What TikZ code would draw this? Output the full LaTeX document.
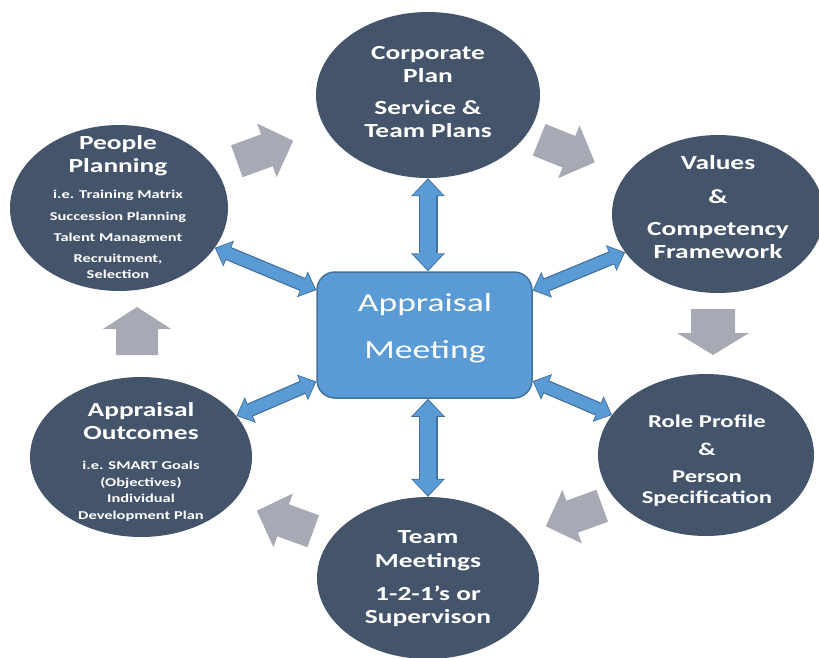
\documentclass[tikz,border=0pt]{standalone}
\usepackage{fontspec}
\setmainfont{Carlito}[FakeStretch=1.37]
\usetikzlibrary{arrows.meta,shapes.geometric}

\definecolor{slate}{RGB}{68,84,106}
\definecolor{meetfill}{RGB}{91,155,213}
\definecolor{meetline}{RGB}{65,113,156}
\definecolor{flowgray}{RGB}{167,169,180}

% text line: name, x, baseline y, font, text
\newcommand\say[5]{\node[anchor=base, text=white, inner sep=0pt, font=#4] (#1) at (#2,#3) {#5};}
\newcommand\fbig{\bfseries\fontsize{20}{24}\selectfont}
\newcommand\fmid{\bfseries\fontsize{18}{22}\selectfont}
\newcommand\fsmall{\bfseries\fontsize{12}{15}\selectfont}
\newcommand\fmeet{\fontsize{26}{30}\selectfont}

\tikzset{
  stage/.style={ellipse, fill=slate, inner sep=0pt},
  meetbox/.style={rectangle, rounded corners=18pt, fill=meetfill, draw=meetline,
    line width=1.5pt, minimum width=215pt, minimum height=126pt, inner sep=0pt},
  % two-headed link, drawn as an outline then a lighter core
  linkout/.style n args={3}{draw=meetline, line width=#1,
    {Triangle[width=#2,length=#3,line width=0pt]}-{Triangle[width=#2,length=#3,line width=0pt]}},
  vout/.style={linkout={19pt}{34pt}{18pt}},
  vin/.style={linkout={16.5pt}{30.5pt}{15.5pt}, draw=meetfill, shorten <=1.6pt, shorten >=1.6pt},
  dout/.style={linkout={14pt}{28pt}{15pt}},
  din/.style={linkout={11.5pt}{24.5pt}{12.5pt}, draw=meetfill, shorten <=1.6pt, shorten >=1.6pt},
  % grey block arrow: length, shaft width, head width, head length
  pics/flow/.style n args={4}{code={
    \fill[flowgray] (-#1/2,-#2/2) -- ({#1/2-#4},-#2/2) -- ({#1/2-#4},-#3/2) -- (#1/2,0)
      -- ({#1/2-#4},#3/2) -- ({#1/2-#4},#2/2) -- (-#1/2,#2/2) -- cycle;}}
}

\begin{document}
\begin{tikzpicture}[x=1pt,y=-1pt]
\useasboundingbox (0,0) rectangle (819,657);

% stages of the cycle
\node[stage, minimum width=224pt, minimum height=166pt] (corp) at (428,95) {};
\node[stage, minimum width=212pt, minimum height=158pt] (values) at (718,214) {};
\node[stage, minimum width=216pt, minimum height=162pt] (role) at (706,455) {};
\node[stage, minimum width=222pt, minimum height=162pt] (team) at (428,578) {};
\node[stage, minimum width=222pt, minimum height=160pt] (outcomes) at (141,457) {};
\node[stage, minimum width=218pt, minimum height=166pt] (people) at (119,208) {};

% central meeting
\node[meetbox] (meet) at (424.5,335) {};

% flow arrows round the cycle
\pic[rotate=20] (f1) at (265,151) {flow={60}{34}{57}{28}};
\pic[rotate=-22] (f2) at (567,151) {flow={60}{34}{57}{28}};
\pic[rotate=-90] (f3) at (713,332) {flow={46}{44}{72}{22}};
\pic[rotate=200] (f4) at (574,516) {flow={60}{34}{57}{28}};
\pic[rotate=160] (f5) at (285,521) {flow={60}{34}{57}{28}};
\pic[rotate=90] (f6) at (137,331) {flow={48}{42}{68}{22}};

% links between the meeting and each stage
\draw[vout] (corp.south) -- (corp.south |- meet.north);
\draw[vin]  (corp.south) -- (corp.south |- meet.north);
\draw[vout] (team.north) -- (team.north |- meet.south);
\draw[vin]  (team.north) -- (team.north |- meet.south);
\foreach \s in {people,values,outcomes,role}{
  \draw[dout] (meet) -- (\s);
  \draw[din]  (meet) -- (\s);
}

% meeting text
\say{m1}{425}{311}{\fmeet}{Appraisal}
\say{m2}{425}{358}{\fmeet}{Meeting}

% corporate plan
\say{c1}{428}{59}{\fbig}{Corporate}
\say{c2}{428}{82}{\fbig}{Plan}
\say{c3}{428}{114}{\fbig}{Service \&}
\say{c4}{428}{137}{\fbig}{Team Plans}

% values
\say{v1}{718}{169}{\fbig}{Values}
\say{v2}{718}{203}{\fbig}{\&}
\say{v3}{718}{235}{\fbig}{Competency}
\say{v4}{718}{258}{\fbig}{Framework}

% role profile
\say{r1}{707}{427}{\fmid}{Role Profile}
\say{r2}{707}{455}{\fmid}{\&}
\say{r3}{707}{482}{\fmid}{Person}
\say{r4}{707}{503}{\fmid}{Specification}

% team meetings
\say{t1}{428}{543}{\fbig}{Team}
\say{t2}{428}{567}{\fbig}{Meetings}
\say{t3}{428}{600}{\fbig}{1-2-1\char"0027 s or}
\say{t4}{428}{623}{\fbig}{Supervison}

% appraisal outcomes
\say{o1}{141}{416}{\fbig}{Appraisal}
\say{o2}{141}{439}{\fbig}{Outcomes}
\say{o3}{141}{469}{\fsmall}{i.e. SMART Goals}
\say{o4}{141}{486}{\fsmall}{(Objectives)}
\say{o5}{141}{502}{\fsmall}{Individual}
\say{o6}{141}{519}{\fsmall}{Development Plan}

% people planning
\say{p1}{118}{149}{\fbig}{People}
\say{p2}{118}{172}{\fbig}{Planning}
\say{p3}{118}{198}{\fsmall}{i.e. Training Matrix}
\say{p4}{118}{220}{\fsmall}{Succession Planning}
\say{p5}{118}{241}{\fsmall}{Talent Managment}
\say{p6}{118}{262}{\fsmall}{Recruitment,}
\say{p7}{118}{278}{\fsmall}{Selection}
\end{tikzpicture}
\end{document}
